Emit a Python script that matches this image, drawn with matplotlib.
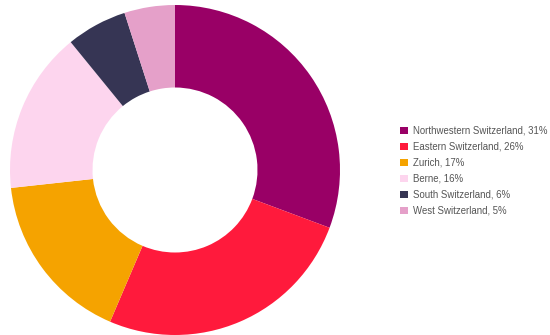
import matplotlib
matplotlib.use('Agg')
import matplotlib.pyplot as plt
from matplotlib.patches import Patch

regions = ['Northwestern Switzerland', 'Eastern Switzerland', 'Zurich', 'Berne',
           'South Switzerland', 'West Switzerland']
shares = [31, 26, 17, 16, 6, 5]
colors = ['#990066', '#FF1A3C', '#F5A300', '#FDD5EE', '#363554', '#E5A0C9']

plt.rcParams['font.family'] = ['Liberation Sans', 'DejaVu Sans']

fig = plt.figure(figsize=(5.5, 3.35), dpi=100)
ax = fig.add_axes([10 / 550, 0 / 335, 330 / 550, 330 / 335])
ax.pie(shares, colors=colors, startangle=90, counterclock=False,
       wedgeprops=dict(width=0.5, linewidth=0))
ax.set_xlim(-1, 1)
ax.set_ylim(-1, 1)
ax.set_aspect('equal')

handles = [Patch(facecolor=c, edgecolor='none') for c in colors]
labels = [f'{r}, {s}%' for r, s in zip(regions, shares)]
fig.legend(handles, labels, loc='center left', bbox_to_anchor=(396 / 550, 0.49),
           frameon=False, fontsize=6.9, labelcolor='#555555',
           handlelength=0.85, handleheight=0.85, handletextpad=0.55,
           labelspacing=0.62, borderaxespad=0)

fig.savefig('out.png')
